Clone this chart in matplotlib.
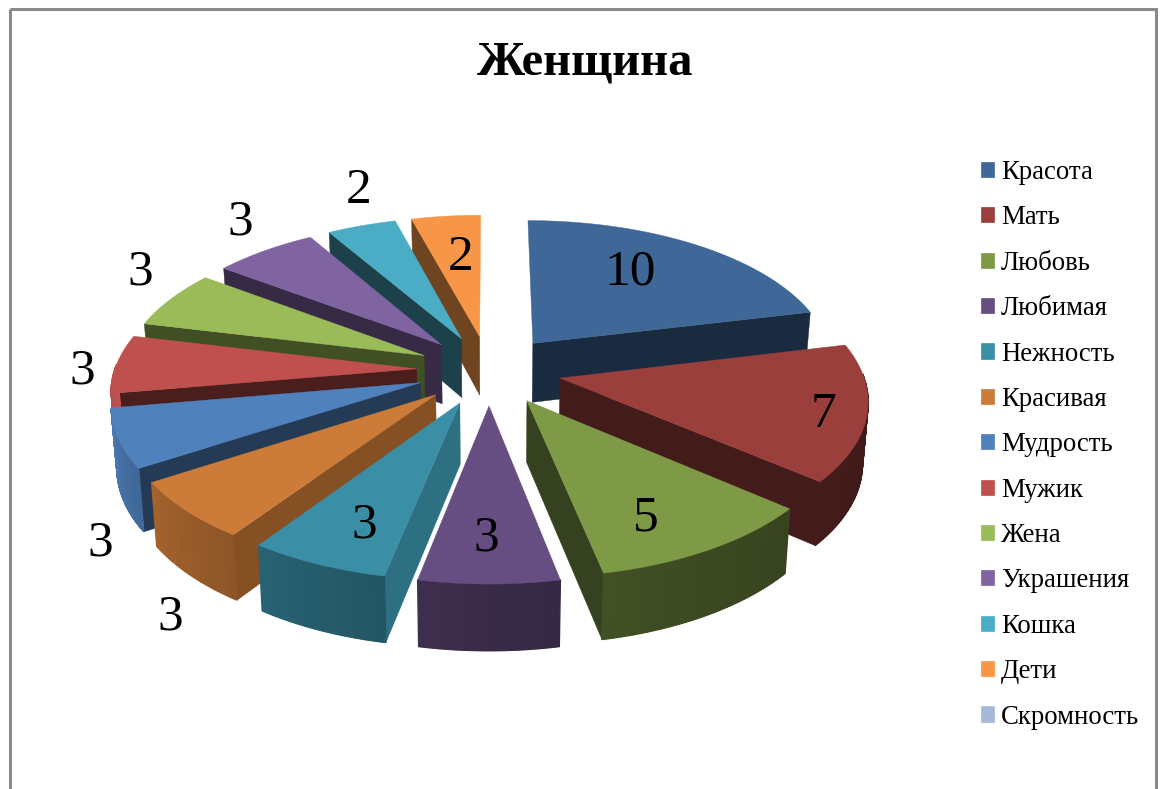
import numpy as np
import matplotlib
matplotlib.use("Agg")
import matplotlib.pyplot as plt
from matplotlib.patches import Polygon, Rectangle, Patch
from matplotlib.colors import to_rgb

plt.rcParams['font.family'] = ['Liberation Serif', 'DejaVu Serif']

categories = ["Красота", "Мать", "Любовь", "Любимая", "Нежность", "Красивая", "Мудрость",
              "Мужик", "Жена", "Украшения", "Кошка", "Дети", "Скромность"]
values = [10, 7, 5, 3, 3, 3, 3, 3, 3, 3, 2, 2, 0]
colors = ["#3F6797", "#9A3F3C", "#7E9A47", "#674E82", "#3A8FA7", "#CC7B38", "#4F81BD",
          "#C0504D", "#9BBB59", "#8064A2", "#4BACC6", "#F79646", "#A7B9D8"]
face_shade = [0.42, 0.43, 0.43, 0.5, 0.78, 0.65, 0.45, 0.38, 0.42, 0.42, 0.38, 0.45, 0.4]
label_xy = [(630, 268), (823, 411), (646, 514), (486, 534), (364, 521), (170, 613), (100, 539),
            (82, 367), (140, 268), (240, 218), (359, 187), (461, 254)]

CX, CY, AX, AY = 489, 370, 302, 145
PERSP, EXPLODE, HEIGHT, BOTTOM_X = 0.129, 0.24, 60, 0.985


def project(X, Y):
    s = 1 / (1 + PERSP * Y)
    return CX + AX * X * s, CY - AY * Y * s


def drop(Y):
    return HEIGHT * (1 - 0.09 * Y)


def low_x(x):
    return CX + (x - CX) * BOTTOM_X


def wall_shade(t):
    u = np.clip((np.degrees(t) - 90) / 180, 0, 1)
    return 0.41 + 0.59 * u ** 2


fig = plt.figure(figsize=(11.68, 7.89), dpi=100)
ax = fig.add_axes([0, 0, 1, 1])
ax.set_xlim(0, 1168)
ax.set_ylim(789, 0)
ax.axis("off")

ax.add_patch(Rectangle((10, 9), 1146, 800, fill=False, ec="#8A8A8A", lw=2.2, zorder=0))

total = sum(values)
edges = np.cumsum([0] + values) / total * 2 * np.pi
wedges = []
for i, v in enumerate(values):
    if v > 0:
        mid = (edges[i] + edges[i + 1]) / 2
        wedges.append((EXPLODE * np.cos(mid), i, mid))
wedges.sort(key=lambda w: -w[0])

z = 2
for y0, i, mid in wedges:
    x0 = EXPLODE * np.sin(mid)
    col = np.array(to_rgb(colors[i]))
    ts = np.linspace(edges[i], edges[i + 1], 60)
    gx = x0 + np.sin(ts)
    gy = y0 + np.cos(ts)
    px, py = project(gx, gy)
    ax0, ay0 = project(x0, y0)
    cenx = (ax0 + px.mean() * 2) / 3
    ceny = (ay0 + py.mean() * 2) / 3
    # radial faces, only those turned to the viewer
    for k in (0, -1):
        dx = px[k] - ax0
        dy = py[k] - ay0
        if abs(dx) < 0.12 * abs(dy):
            continue
        yl = ay0 + dy * (cenx - ax0) / dx
        if ceny < yl:
            quad = [(ax0, ay0), (px[k], py[k]), (low_x(px[k]), py[k] + drop(gy[k])),
                    (low_x(ax0), ay0 + drop(y0))]
            c = col * face_shade[i]
            ax.add_patch(Polygon(quad, closed=True, fc=c, ec=c, lw=0.3, zorder=z))
            z += 1
    # outer wall
    for j in range(len(ts) - 1):
        tm = (ts[j] + ts[j + 1]) / 2
        if np.cos(tm) < 0.03:
            c = col * wall_shade(tm)
            quad = [(px[j], py[j]), (px[j + 1], py[j + 1]),
                    (low_x(px[j + 1]), py[j + 1] + drop(gy[j + 1])),
                    (low_x(px[j]), py[j] + drop(gy[j]))]
            ax.add_patch(Polygon(quad, closed=True, fc=c, ec=c, lw=1.0, zorder=z))
    z += 1
    # top face
    top = np.column_stack([np.r_[ax0, px], np.r_[ay0, py]])
    ax.add_patch(Polygon(top, closed=True, fc=col, ec=col, lw=0.3, zorder=z))
    z += 1

for v, (lx, ly) in zip([w for w in values if w > 0], label_xy):
    ax.text(lx, ly + 4, str(v), fontsize=37, ha="center", va="center", color="black", zorder=500)

ax.text(585, 62, "Женщина", fontsize=35, fontweight="bold", ha="center", va="center", color="black")

handles = [Patch(fc=c, ec=c, lw=0.5, label=n) for c, n in zip(colors, categories)]
ax.legend(handles=handles, loc="upper left", bbox_to_anchor=(973 / 1168, 1 - 152 / 789),
          frameon=False, fontsize=19.3, labelspacing=0.76, handlelength=0.49, handleheight=0.49,
          handletextpad=0.25, borderaxespad=0, borderpad=0.3)

fig.savefig("out.png", dpi=100)
